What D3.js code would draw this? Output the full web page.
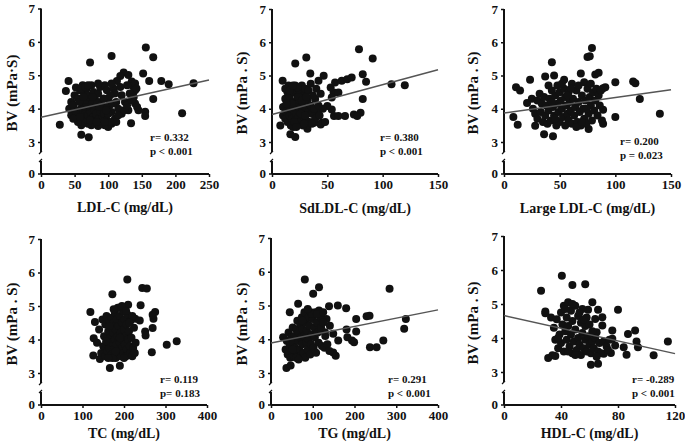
<!DOCTYPE html>
<html><head><meta charset="utf-8">
<script src="https://cdn.jsdelivr.net/npm/d3@7"></script>
<style>body{margin:0;background:#fff}svg text{font-family:"Liberation Serif","Times New Roman",serif;font-weight:bold;fill:#111}</style>
</head><body><svg id="c" width="685" height="444"></svg>
<script>
const yTicks=[3,4,5,6,7];
const xTitles=["LDL-C (mg/dL)","SdLDL-C (mg/dL)","Large LDL-C (mg/dL)","TC (mg/dL)","TG (mg/dL)","HDL-C (mg/dL)"];
const yTitles=["BV (mPa\u00b7S)","BV (mPa . S)","BV (mPa . S)","BV (mPa . S)","BV (mPa . S)","BV (mPa . S)"];
const xMax=[250,150,150,400,400,120];
const xTickVals=[[0,50,100,150,200,250],[0,50,100,150],[0,50,100,150],[0,100,200,300,400],[0,100,200,300,400],[0,40,80,120]];
const rLabels=["r= 0.332","r= 0.380","r= 0.200","r= 0.119","r= 0.291","r= -0.289"];
const pLabels=["p < 0.001","p < 0.001","p = 0.023","p= 0.183","p < 0.001","p < 0.001"];
// regression line endpoints [y at x=0, y at x=max]; null = no line
const fitLines=[[3.74,4.86],[3.83,5.17],[3.87,4.57],null,[3.89,4.87],[4.66,3.54]];

const ldl=[[28,3.52],[60,3.22],[71,3.14],[73,5.38],[105,5.58],[156,5.83],[167,5.54],[152,5.05],[161,4.83],[179,4.83],[190,4.73],[227,4.76],[167,4.29],[210,3.86],[155,3.91],[155,3.78],[134,3.56],[41,4.83],[37,4.53],[52,4.63],[123,5.08],[130,5.01],[118,4.98],[113,4.83],[135,4.81],[137,4.66],[140,4.55],[128,4.70],[132,4.45],[138,4.35],[120,4.40],[125,4.20],[140,4.15],[145,3.95],[143,4.05],[130,3.95],[120,3.85],[110,3.70],[105,3.55],[100,3.45],[95,3.50],[90,3.55],[85,3.48],[80,3.60],[75,3.50],[70,3.55],[65,3.65],[60,3.50],[55,3.60],[50,3.75],[45,3.80],[42,4.00],[45,4.20],[48,4.10],[50,4.40],[55,4.30],[58,4.55],[62,4.70],[65,4.50],[68,4.60],[70,4.40],[72,4.25],[75,4.70],[78,4.50],[80,4.30],[82,4.10],[85,4.45],[88,4.65],[90,4.20],[92,4.00],[95,4.70],[98,4.55],[100,4.30],[102,4.10],[105,3.90],[108,4.60],[110,4.45],[112,4.20],[115,4.00],[115,3.80],[118,4.65],[60,4.00],[62,3.85],[65,4.15],[68,3.95],[70,3.80],[72,4.05],[74,3.90],[76,4.15],[78,3.75],[80,3.95],[82,3.85],[84,4.20],[86,3.70],[88,3.90],[90,4.10],[92,3.75],[94,3.85],[96,4.05],[98,3.65],[100,3.85],[55,3.95],[57,4.20],[52,3.90],[48,3.70],[58,3.75],[63,4.35],[67,4.05],[73,3.65],[77,4.35],[83,3.60],[87,4.05],[93,4.30],[97,3.95],[103,4.40],[107,4.15],[112,3.60],[102,3.60],[95,3.60],[124,3.95],[128,4.10],[135,4.25],[140,4.75],[142,4.60],[60,4.60],[66,4.65],[85,4.75],[105,4.75],[70,4.70]];
const sdldl=[[7.5,3.5],[9.6,4.84],[16.6,3.23],[21,3.15],[21,5.36],[31,5.54],[34.6,5.06],[32,3.4],[46.7,4.99],[42,4.84],[78.6,5.79],[91,5.51],[82,5.04],[85,4.81],[82,4.29],[80,3.88],[108,4.74],[120,4.71],[55.7,4.49],[54,4.34],[60,4.49],[53,4.64],[57,4.79],[63,4.84],[68,4.89],[72,4.94],[56,3.78],[60,3.78],[66,3.78],[74,3.83],[77,3.78],[54,3.98],[50,4.08],[45,3.58],[44,3.53],[38,3.58],[41,3.88],[39,4.29],[10,3.8],[10,4.05],[12,3.7],[12,4.3],[13,3.9],[14,4.5],[14,3.6],[15,4.1],[15,4.7],[16,3.8],[16,4.35],[17,3.5],[17,4.0],[18,4.6],[18,3.7],[19,4.2],[19,3.45],[20,3.95],[20,4.5],[21,3.65],[21,4.7],[22,4.1],[22,3.85],[23,4.35],[23,3.55],[24,4.6],[24,3.75],[25,4.0],[25,4.25],[26,3.6],[26,4.5],[27,3.9],[27,4.7],[28,4.15],[28,3.5],[29,4.4],[29,3.75],[30,4.0],[30,4.6],[31,3.65],[32,4.25],[33,3.9],[33,4.55],[34,3.6],[35,4.1],[35,4.75],[36,3.85],[37,4.4],[38,4.0],[39,3.7],[40,4.6],[42,4.1],[43,3.8],[44,4.45],[46,4.0],[48,3.6],[36,3.55],[12,4.6],[18,4.15],[20,3.6],[24,4.35],[26,3.85],[30,3.8],[16,4.55],[27,4.25],[13,4.15],[31,4.35],[23,4.65],[19,4.7],[29,3.55],[22,3.45]];
const largeLdl=[[8.4,3.75],[12.3,3.52],[10.8,4.65],[14.4,4.55],[23.4,4.87],[20.7,4.17],[28,3.49],[36,3.23],[44,3.17],[43,5.4],[45,5.0],[37,4.97],[54,4.87],[69,5.06],[75,5.56],[77,5.58],[79,5.83],[82,5.03],[85,5.08],[89,4.62],[91,4.65],[89,3.97],[89,3.55],[100,3.75],[100,4.8],[116,4.82],[118,4.77],[122,4.29],[140,3.85],[76,3.39],[25,4.3],[26,4.0],[28,3.85],[30,4.25],[30,3.7],[32,4.45],[33,3.9],[34,4.15],[35,3.6],[36,4.35],[37,3.8],[38,4.1],[39,3.55],[40,4.7],[40,3.95],[41,4.3],[42,3.65],[43,4.55],[44,4.05],[45,3.8],[46,4.4],[47,3.5],[48,4.15],[48,4.7],[49,3.9],[50,4.5],[50,3.6],[51,4.25],[52,4.0],[53,3.75],[54,4.6],[55,4.35],[55,3.5],[56,4.1],[57,3.85],[58,4.5],[58,3.65],[59,4.2],[60,3.95],[61,4.75],[61,3.55],[62,4.3],[63,3.8],[64,4.05],[65,4.55],[66,3.6],[67,4.7],[67,4.2],[68,3.9],[69,3.5],[70,4.4],[71,4.0],[72,4.8],[72,3.7],[73,4.25],[74,3.55],[75,4.6],[76,3.85],[77,4.35],[78,4.1],[78,4.75],[79,3.65],[80,4.5],[81,3.95],[82,4.25],[83,4.6],[84,3.8],[85,4.4],[86,4.1],[87,4.55],[88,3.65],[65,3.45],[60,4.6],[52,4.75],[46,3.7],[43,4.2],[57,4.4],[70,3.6],[74,4.0]];
const tc=[[119,4.82],[130,4.52],[127,4.04],[126,3.52],[142,3.42],[166,3.15],[190,3.22],[172,5.35],[208,5.79],[244,5.54],[255,5.52],[210,5.04],[240,5.02],[227,4.62],[238,4.57],[271,4.62],[275,4.82],[269,4.74],[251,4.24],[252,4.12],[269,4.34],[267,3.62],[303,3.84],[327,3.95],[135,3.9],[140,4.3],[145,3.6],[148,4.6],[150,3.8],[152,4.1],[155,3.5],[155,4.45],[158,4.7],[160,3.95],[160,3.65],[162,4.25],[164,4.55],[165,3.75],[167,4.05],[168,4.35],[170,3.55],[170,4.65],[172,3.9],[174,4.2],[175,4.5],[176,3.7],[178,4.0],[178,4.8],[180,3.45],[180,4.3],[182,3.85],[183,4.6],[185,4.1],[186,3.6],[187,4.4],[188,4.95],[190,3.9],[190,4.7],[192,4.2],[193,3.5],[195,4.5],[195,3.75],[196,4.0],[198,4.85],[199,3.6],[200,4.3],[201,4.6],[202,3.85],[204,4.1],[205,3.5],[206,4.45],[207,3.7],[208,4.75],[210,4.0],[211,3.55],[212,4.25],[214,3.8],[215,4.55],[216,3.6],[218,4.05],[220,3.5],[220,4.7],[222,3.75],[224,4.35],[226,3.6],[228,3.9],[185,4.95],[195,5.0],[175,4.9],[165,4.4],[200,3.45],[172,3.45],[157,3.95],[162,3.45],[213,4.5],[190,4.05],[180,3.65],[205,4.85]];
const tg=[[29,4.06],[45,4.8],[37,3.15],[47,3.22],[65,5.05],[81,5.77],[101,5.35],[115,5.54],[139,4.98],[160,5.0],[180,4.92],[161,3.96],[155,3.51],[149,3.61],[181,4.29],[183,4.06],[194,3.96],[199,3.91],[204,4.6],[204,4.23],[229,4.68],[236,4.7],[237,3.76],[253,3.76],[269,3.96],[284,5.5],[319,4.31],[323,4.6],[133,4.6],[141,4.4],[129,4.21],[149,4.16],[35,3.7],[38,3.95],[40,3.55],[42,4.2],[45,3.8],[46,3.45],[48,4.05],[50,3.65],[52,4.35],[53,3.9],[55,3.5],[56,4.1],[58,3.75],[60,4.3],[62,3.6],[63,4.55],[65,3.95],[66,4.2],[68,3.7],[70,4.45],[70,3.5],[72,4.05],[74,4.65],[75,3.85],[76,4.3],[78,3.6],[80,4.8],[80,4.1],[82,3.45],[84,4.5],[85,3.9],[86,4.25],[88,3.7],[90,4.65],[90,4.0],[92,4.4],[94,3.55],[95,4.8],[96,3.85],[98,4.15],[100,4.6],[102,3.75],[104,4.35],[105,4.05],[106,4.8],[108,3.6],[110,4.5],[112,4.2],[114,3.9],[115,4.85],[118,4.65],[120,4.35],[122,3.8],[125,4.5],[128,3.75],[130,4.1],[135,3.85],[140,3.65],[60,3.45],[75,4.55],[66,3.4],[98,4.75],[52,3.7],[88,4.9],[110,4.75],[125,4.8]];
const hdl=[[29,4.78],[29,4.73],[26,5.39],[31,3.41],[34,3.49],[36,3.47],[40.6,5.83],[48,5.56],[57,5.58],[62,5.05],[59,4.83],[66,4.83],[64,4.56],[69,4.61],[69,4.37],[80,4.83],[65,4.17],[61,3.21],[66,3.24],[87,4.12],[92,4.22],[93,3.9],[94,3.73],[86,3.51],[105,3.49],[115,3.9],[76,4.22],[76,3.98],[84,3.73],[78,3.78],[70,3.54],[75,3.56],[33,4.6],[35,4.3],[36,3.95],[37,4.55],[38,3.7],[39,4.1],[40,4.75],[40,3.85],[41,4.4],[42,4.95],[42,3.6],[43,4.2],[44,4.6],[44,3.95],[45,5.05],[45,4.35],[46,3.75],[47,4.8],[47,4.1],[48,3.55],[48,4.5],[49,3.9],[50,4.95],[50,4.25],[51,3.65],[52,4.65],[52,4.0],[53,3.8],[54,4.45],[54,3.5],[55,4.15],[55,4.85],[56,3.7],[57,4.35],[57,3.95],[58,4.6],[58,3.6],[59,4.05],[60,3.8],[60,4.4],[61,3.55],[62,4.2],[62,3.9],[63,3.7],[64,4.0],[66,3.6],[67,3.85],[68,3.55],[70,3.9],[72,3.75],[73,3.65],[74,3.95],[65,3.45],[50,3.5],[38,4.0],[45,3.6],[53,4.75],[56,4.55],[43,4.85],[48,5.0]];
const series=[ldl,sdldl,largeLdl,tc,tg,hdl];

// layout: [axis x left, axis x right, y of 7, y of 3, y of 0]
const layout=[[41,209,8.5,142,174],[272,438,9,142,174],[504,671,9,142,174],[41,207,239,373,405],[271,438,238,373,405],[504,675,236,372,405]];
const annPos=[[150,137],[380,137],[620,141],[160,379],[388,379],[632,379]];
const ytitleX=[12,242,473,12,242,473];
const xtitleY=[212,213,213,438,438,438];

const svg=d3.select("#c");
series.forEach((data,i)=>{
  const [xl,xr,y7,y3,y0]=layout[i];
  const g=svg.append("g");
  const x=d3.scaleLinear().domain([0,xMax[i]]).range([xl,xr]);
  const y=d3.scaleLinear().domain([3,7]).range([y3,y7]);
  // x axis
  const xa=g.append("g").attr("transform",`translate(0,${y0})`).call(d3.axisBottom(x).tickValues(xTickVals[i]).tickSize(3).tickPadding(3));
  xa.select(".domain").attr("stroke","#111").attr("stroke-width",2).attr("d",`M${xl},0H${xr}`);
  xa.selectAll(".tick line").attr("stroke","#111").attr("stroke-width",1.5);
  xa.selectAll("text").attr("font-size",13).style("font-family","Liberation Serif").style("font-weight","bold").attr("fill","#111");
  // y axis upper segment
  const ya=g.append("g").attr("transform",`translate(${xl},0)`).call(d3.axisLeft(y).tickValues(yTicks).tickFormat(d3.format("d")).tickSize(3).tickPadding(3));
  ya.select(".domain").attr("stroke","#111").attr("stroke-width",2).attr("d",`M0,${y3+10}V${y7}`);
  ya.selectAll(".tick line").attr("stroke","#111").attr("stroke-width",1.5);
  ya.selectAll("text").attr("font-size",13).style("font-family","Liberation Serif").style("font-weight","bold").attr("fill","#111");
  // lower segment with zero tick
  g.append("path").attr("d",`M${xl},${y0}V${y0-13}`).attr("stroke","#111").attr("stroke-width",2).attr("fill","none");
  g.append("path").attr("d",`M${xl-2},${y3+12}L${xl+1},${y3+9}M${xl-2},${y0-12}L${xl+1},${y0-15}`).attr("stroke","#111").attr("stroke-width",1.2);
  g.append("line").attr("x1",xl-3).attr("x2",xl).attr("y1",y0).attr("y2",y0).attr("stroke","#111").attr("stroke-width",1.5);
  g.append("text").attr("x",xl-6).attr("y",y0).attr("dy","0.32em").attr("text-anchor","end").attr("font-size",13).text("0");
  // dots
  g.append("g").selectAll("circle").data(data).join("circle")
    .attr("cx",d=>x(d[0])).attr("cy",d=>y(d[1])).attr("r",4).attr("fill","#111");
  // fit line
  if(fitLines[i]){
    g.append("line").attr("x1",x(0)).attr("x2",x(xMax[i])).attr("y1",y(fitLines[i][0])).attr("y2",y(fitLines[i][1]))
      .attr("stroke","#555").attr("stroke-width",1.5);
  }
  // titles
  g.append("text").attr("x",(xl+xr)/2).attr("y",xtitleY[i]).attr("text-anchor","middle").attr("font-size",14).text(xTitles[i]);
  g.append("text").attr("transform",`translate(${ytitleX[i]},${y3-49}) rotate(-90)`).attr("text-anchor","middle").attr("dy","0.35em").attr("font-size",15).text(yTitles[i]);
  // annotation
  g.append("text").attr("x",annPos[i][0]).attr("y",annPos[i][1]).attr("dy","0.35em").attr("font-size",11).text(rLabels[i]);
  g.append("text").attr("x",annPos[i][0]).attr("y",annPos[i][1]+14).attr("dy","0.35em").attr("font-size",11).text(pLabels[i]);
});
</script></body></html>
